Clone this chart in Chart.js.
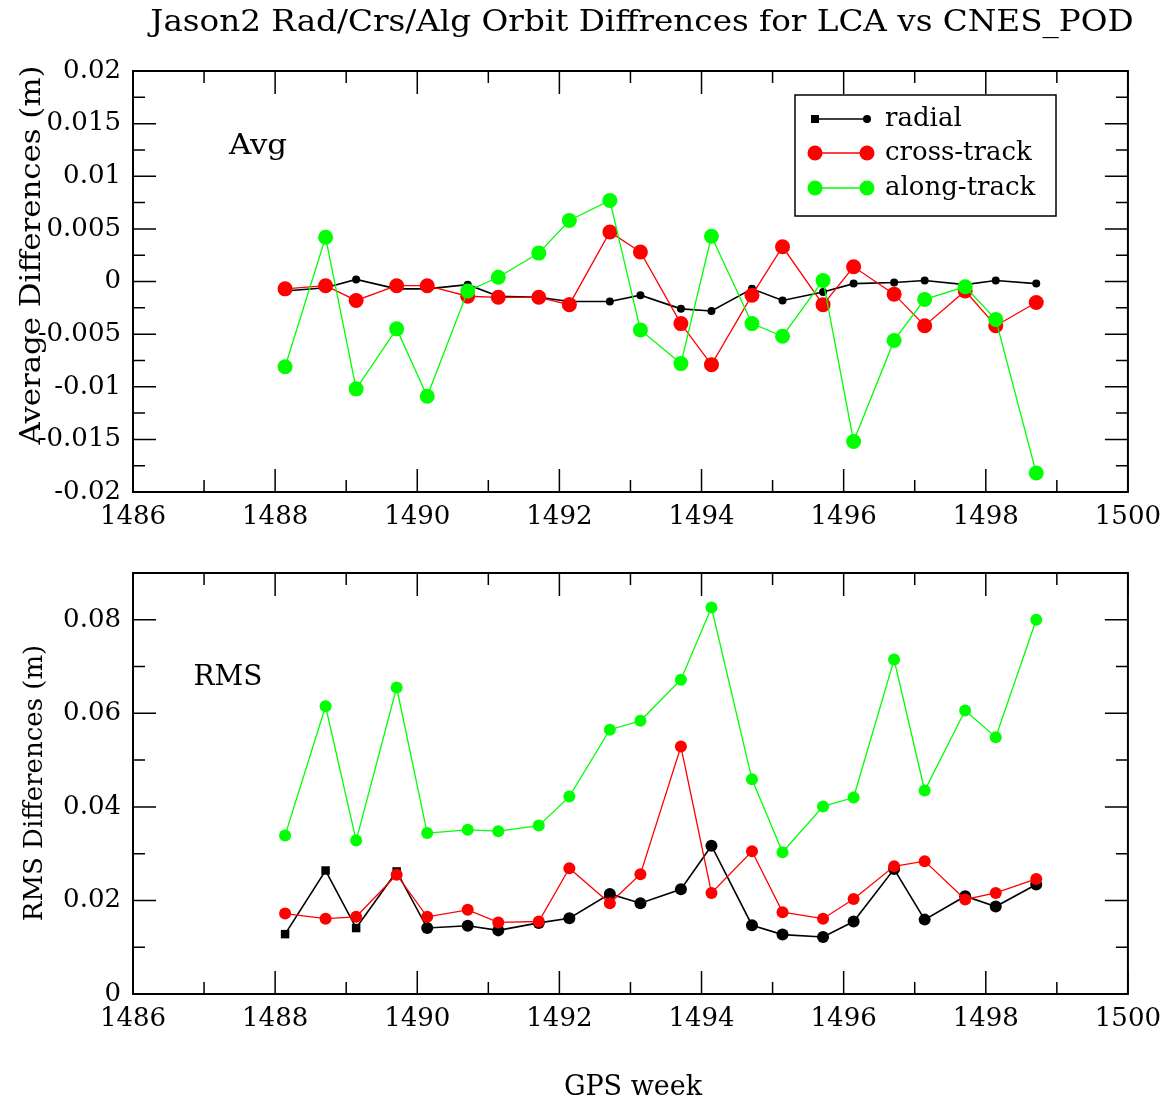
<!DOCTYPE html>
<html>
<head>
<meta charset="utf-8">
<script src="https://cdn.jsdelivr.net/npm/chart.js@4.4.1/dist/chart.umd.min.js"></script>
<style>
  body { margin: 0; background: #fff; }
  #wrap { position: relative; width: 1171px; height: 1104px; background: #fff; }
  canvas { position: absolute; left: 0; }
  #avgChart { top: 0; }
  #rmsChart { top: 530px; }
</style>
</head>
<body>
<div id="wrap">
  <canvas id="avgChart" width="1171" height="530"></canvas>
  <canvas id="rmsChart" width="1171" height="574"></canvas>
</div>
<script>
// GPS weeks (two arcs per week)
var weeks = [1488.14, 1488.71, 1489.14, 1489.71, 1490.14, 1490.71, 1491.14, 1491.71,
             1492.14, 1492.71, 1493.14, 1493.71, 1494.14, 1494.71, 1495.14, 1495.71,
             1496.14, 1496.71, 1497.14, 1497.71, 1498.14, 1498.71];

// average differences (m)
var avgRadial = [-0.0009, -0.0006, 0.0002, -0.0007, -0.0007, -0.0003, -0.0014, -0.0015,
                 -0.0019, -0.0019, -0.0013, -0.0026, -0.0028, -0.0007, -0.0018, -0.0010,
                 -0.0002, -0.0001, 0.0001, -0.0003, 0.0001, -0.0002];
var avgCross = [-0.0007, -0.0004, -0.0018, -0.0004, -0.0004, -0.0014, -0.0015, -0.0015,
                -0.0022, 0.0047, 0.0028, -0.0040, -0.0079, -0.0013, 0.0033, -0.0022,
                0.0014, -0.0012, -0.0042, -0.0009, -0.0042, -0.0020];
var avgAlong = [-0.0081, 0.0042, -0.0102, -0.0045, -0.0109, -0.0009, 0.0004, 0.0027,
                0.0058, 0.0077, -0.0046, -0.0078, 0.0043, -0.0040, -0.0052, 0.0001,
                -0.0152, -0.0056, -0.0017, -0.0005, -0.0036, -0.0182];

// RMS differences (m)
var rmsRadial = [0.0128, 0.0264, 0.0141, 0.0262, 0.0141, 0.0146, 0.0136, 0.0152,
                 0.0162, 0.0214, 0.0194, 0.0224, 0.0317, 0.0147, 0.0127, 0.0122,
                 0.0155, 0.0267, 0.0159, 0.0209, 0.0187, 0.0234];
var rmsCross = [0.0172, 0.0161, 0.0165, 0.0255, 0.0165, 0.0180, 0.0153, 0.0155,
                0.0269, 0.0194, 0.0256, 0.0529, 0.0216, 0.0305, 0.0175, 0.0161,
                0.0203, 0.0273, 0.0284, 0.0202, 0.0216, 0.0246];
var rmsAlong = [0.0339, 0.0615, 0.0328, 0.0655, 0.0344, 0.0351, 0.0348, 0.0360,
                0.0422, 0.0565, 0.0584, 0.0672, 0.0826, 0.0459, 0.0303, 0.0401,
                0.0420, 0.0715, 0.0435, 0.0606, 0.0549, 0.0800];

// tick labels
var weekTicks = [1486, 1488, 1490, 1492, 1494, 1496, 1498, 1500];
var avgTicks = [-0.02, -0.015, -0.01, -0.005, 0, 0.005, 0.01, 0.015, 0.02];
var rmsTicks = [0, 0.02, 0.04, 0.06, 0.08];

var serif = '"DejaVu Serif", serif';

function pts(ys) {
  return ys.map(function(v, i) { return {x: weeks[i], y: v}; });
}

// grace-style inward ticks on all four sides plus frame and extra text
var framePlugin = {
  id: 'frame',
  afterDraw: function(chart) {
    var o = chart.options.plugins.frame;
    var ctx = chart.ctx;
    var a = chart.chartArea;
    var sx = chart.scales.x, sy = chart.scales.y;
    ctx.save();
    ctx.strokeStyle = '#000';
    ctx.lineWidth = 1.5;
    function vt(v, len) {
      var p = sx.getPixelForValue(v);
      ctx.beginPath();
      ctx.moveTo(p, a.bottom); ctx.lineTo(p, a.bottom - len);
      ctx.moveTo(p, a.top); ctx.lineTo(p, a.top + len);
      ctx.stroke();
    }
    function ht(v, len) {
      var p = sy.getPixelForValue(v);
      ctx.beginPath();
      ctx.moveTo(a.left, p); ctx.lineTo(a.left + len, p);
      ctx.moveTo(a.right, p); ctx.lineTo(a.right - len, p);
      ctx.stroke();
    }
    for (var i = 0; i < weekTicks.length; i++) {
      vt(weekTicks[i], 23);
      if (i < weekTicks.length - 1) vt((weekTicks[i] + weekTicks[i + 1]) / 2, 12);
    }
    var yt = o.yTicks;
    for (var j = 0; j < yt.length; j++) {
      ht(yt[j], 23);
      if (j < yt.length - 1) ht((yt[j] + yt[j + 1]) / 2, 12);
    }
    if (o.topMinor) ht(o.topMinor, 12);
    ctx.lineWidth = 2;
    ctx.strokeRect(a.left, a.top, a.right - a.left, a.bottom - a.top);

    ctx.fillStyle = '#000';
    (o.texts || []).forEach(function(t) {
      ctx.save();
      ctx.font = t.size + 'px ' + serif;
      ctx.textAlign = 'center';
      ctx.textBaseline = 'middle';
      ctx.translate(t.x, t.y);
      if (t.rot) ctx.rotate(t.rot);
      if (t.sx) ctx.scale(t.sx, 1);
      ctx.fillText(t.text, 0, 0);
      ctx.restore();
    });

    if (o.legend) {
      var L = o.legend;
      ctx.lineWidth = 1.5;
      ctx.strokeRect(L.x0, L.y0, L.x1 - L.x0, L.y1 - L.y0);
      L.rows.forEach(function(r) {
        ctx.strokeStyle = r.color;
        ctx.fillStyle = r.color;
        ctx.lineWidth = r.width;
        ctx.beginPath();
        ctx.moveTo(L.lx0, r.y); ctx.lineTo(L.lx1, r.y);
        ctx.stroke();
        if (r.square) {
          ctx.fillRect(L.lx0 - r.r, r.y - r.r, 2 * r.r, 2 * r.r);
        } else {
          ctx.beginPath(); ctx.arc(L.lx0, r.y, r.r, 0, Math.PI * 2); ctx.fill();
        }
        ctx.beginPath(); ctx.arc(L.lx1, r.y, r.r, 0, Math.PI * 2); ctx.fill();
        ctx.fillStyle = '#000';
        ctx.font = '26px ' + serif;
        ctx.textAlign = 'left';
        ctx.textBaseline = 'middle';
        ctx.fillText(r.label, L.tx, r.y);
      });
      ctx.strokeStyle = '#000';
    }
    ctx.restore();
  }
};

function fmt(v) {
  return String(+(+v).toFixed(4));
}

function makeChart(id, series, radii, yMin, yMax, yTicks, pad, xHeight, frameOpts, rectFirst) {
  var names = ['radial', 'cross-track', 'along-track'];
  var colors = ['#000000', '#ff0000', '#00ff00'];
  var widths = [1.6, 1.3, 1.3];
  var datasets = series.map(function(s, k) {
    return {
      label: names[k],
      data: pts(s),
      borderColor: colors[k],
      backgroundColor: colors[k],
      borderWidth: widths[k],
      pointRadius: radii[k],
      pointBorderWidth: 0,
      pointStyle: (k === 0 && rectFirst) ? function(c) { return c.dataIndex < 4 ? 'rect' : 'circle'; } : 'circle',
      order: 3 - k,
      tension: 0
    };
  });
  return new Chart(document.getElementById(id), {
    type: 'line',
    data: { datasets: datasets },
    options: {
      responsive: false,
      animation: false,
      layout: { padding: pad },
      plugins: { legend: { display: false }, tooltip: { enabled: false }, frame: frameOpts },
      scales: {
        x: {
          type: 'linear', min: 1486, max: 1500,
          grid: { display: false, drawTicks: false },
          border: { display: false },
          afterBuildTicks: function(s) { s.ticks = weekTicks.map(function(v) { return {value: v}; }); },
          afterFit: function(s) { s.height = xHeight; },
          ticks: {
            autoSkip: false, maxRotation: 0, padding: 10, color: '#000',
            font: { family: serif, size: 26 },
            callback: function(v) { return String(v); }
          }
        },
        y: {
          type: 'linear', min: yMin, max: yMax,
          grid: { display: false, drawTicks: false },
          border: { display: false },
          afterBuildTicks: function(s) { s.ticks = yTicks.map(function(v) { return {value: v}; }); },
          afterFit: function(s) { s.width = 133; },
          ticks: {
            autoSkip: false, padding: 12, color: '#000',
            font: { family: serif, size: 26 },
            callback: function(v) { return fmt(v); }
          }
        }
      }
    },
    plugins: [framePlugin]
  });
}

makeChart('avgChart', [avgRadial, avgCross, avgAlong], [4, 7.5, 7.5],
  -0.02, 0.02, avgTicks, { top: 71, right: 38, left: 0, bottom: 0 }, 38,
  {
    yTicks: avgTicks,
    texts: [
      { text: 'Jason2 Rad/Crs/Alg Orbit Diffrences for LCA vs CNES_POD', x: 642, y: 23, size: 29, sx: 1.125 },
      { text: 'Avg', x: 258, y: 147, size: 28, sx: 1.1 },
      { text: 'Average Differences (m)', x: 33, y: 255, size: 28, sx: 1.1, rot: -Math.PI / 2 }
    ],
    legend: {
      x0: 795, y0: 95, x1: 1056, y1: 216, lx0: 815, lx1: 867, tx: 885,
      rows: [
        { label: 'radial', color: '#000000', width: 1.6, r: 4, y: 119, square: true },
        { label: 'cross-track', color: '#ff0000', width: 1.3, r: 7.5, y: 153 },
        { label: 'along-track', color: '#00ff00', width: 1.3, r: 7.5, y: 188 }
      ]
    }
  }, false);

makeChart('rmsChart', [rmsRadial, rmsCross, rmsAlong], [6, 6, 6],
  0, 0.09, rmsTicks, { top: 43, right: 38, left: 0, bottom: 70 }, 40,
  {
    yTicks: rmsTicks,
    topMinor: 0.09,
    texts: [
      { text: 'RMS', x: 228, y: 148, size: 28 },
      { text: 'RMS Differences (m)', x: 35, y: 253, size: 26, rot: -Math.PI / 2 },
      { text: 'GPS week', x: 633, y: 558, size: 27 }
    ]
  }, true);
</script>
</body>
</html>
